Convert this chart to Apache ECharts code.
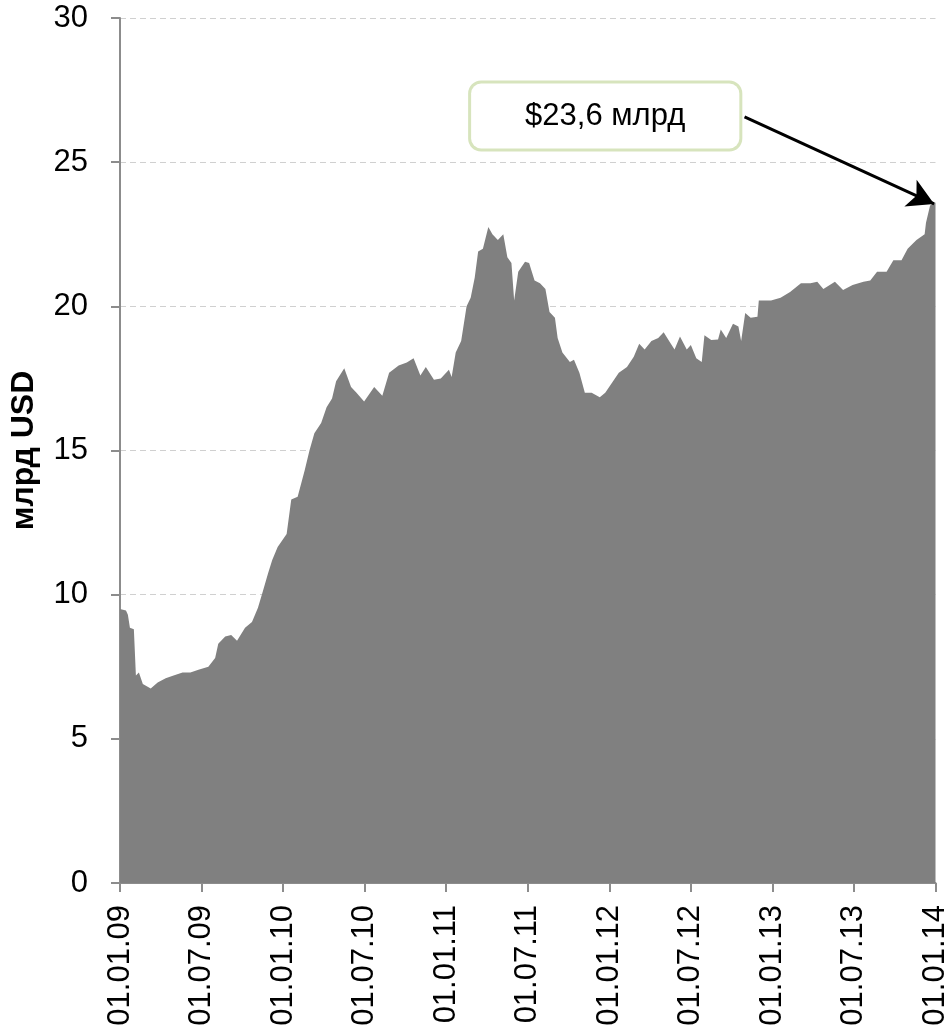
<!DOCTYPE html>
<html>

<head>
    <meta charset="utf-8">
    <title>млрд USD</title>
    <style>
        html, body { margin: 0; padding: 0; background: #fff; }
        #chart-container { width: 951px; height: 1031px; }
    </style>
    <script src="https://cdn.jsdelivr.net/npm/echarts@6/dist/echarts.min.js"></script>
</head>

<body>
    <div id="chart-container"></div>
    <script>
        // x = месяцы от 01.01.09, y = млрд USD
        const months = [
            0, 0.44, 0.58, 0.73, 1.02, 1.17, 1.39, 1.68, 2.26, 2.77, 3.36, 3.94, 4.6, 5.18, 5.77,
            6.5, 7.0, 7.23, 7.74, 8.18, 8.61, 9.2, 9.71, 10.15, 10.5, 10.9, 11.2, 11.6, 12.26, 12.6,
            13.07, 13.58, 13.94, 14.3, 14.8, 15.2, 15.6, 15.9, 16.5, 17.0, 17.4, 17.96, 18.7, 19.3,
            19.8, 20.5, 21.1, 21.6, 22.1, 22.5, 23.1, 23.6, 24.2, 24.4, 24.7, 25.1, 25.5, 25.8, 26.1,
            26.35, 26.7, 27.1, 27.4, 27.8, 28.2, 28.5, 28.8, 29.0, 29.3, 29.8, 30.1, 30.5, 30.9,
            31.3, 31.6, 32.0, 32.2, 32.55, 33.1, 33.4, 33.8, 34.2, 34.7, 35.3, 35.7, 36.2, 36.7,
            37.3, 37.8, 38.2, 38.6, 39.1, 39.6, 40.0, 40.4, 40.8, 41.2, 41.7, 42.0, 42.4, 42.8,
            43.0, 43.5, 44.0, 44.2, 44.6, 45.1, 45.5, 45.7, 46.0, 46.4, 46.9, 47.0, 47.9, 48.6,
            49.3, 50.1, 50.8, 51.3, 51.75, 52.6, 53.2, 53.9, 54.7, 55.2, 55.7, 56.4, 56.9, 57.5,
            57.95, 58.6, 59.2, 59.3, 59.6, 60
        ];
        const values = [
            9.5, 9.45, 9.3, 8.85, 8.8, 7.2, 7.3, 6.9, 6.75, 6.95, 7.1, 7.2, 7.3, 7.3, 7.4,
            7.5, 7.8, 8.3, 8.55, 8.6, 8.4, 8.85, 9.05, 9.55, 10.1, 10.75, 11.2, 11.65, 12.1, 13.3,
            13.4, 14.3, 15.0, 15.6, 15.95, 16.5, 16.8, 17.4, 17.85, 17.2, 17.0, 16.7, 17.2, 16.9,
            17.7, 17.95, 18.05, 18.2, 17.6, 17.9, 17.45, 17.5, 17.8, 17.55, 18.4, 18.8, 20.0, 20.3, 21.0,
            21.9, 22.0, 22.75, 22.5, 22.3, 22.5, 21.7, 21.5, 20.2, 21.2, 21.55, 21.5, 20.9, 20.8,
            20.6, 19.8, 19.6, 18.9, 18.4, 18.07, 18.15, 17.7, 17.0, 17.0, 16.85, 17.0, 17.35, 17.7,
            17.9, 18.25, 18.7, 18.5, 18.8, 18.9, 19.1, 18.8, 18.5, 18.95, 18.5, 18.66, 18.2, 18.07,
            19.0, 18.83, 18.85, 19.2, 18.9, 19.4, 19.3, 18.8, 19.77, 19.6, 19.64, 20.2, 20.2, 20.3,
            20.5, 20.8, 20.8, 20.85, 20.6, 20.85, 20.57, 20.74, 20.85, 20.9, 21.2, 21.2, 21.6, 21.6,
            22.0, 22.3, 22.5, 22.9, 23.5, 23.6
        ];
        const xTickLabels = ['01.01.09', '01.07.09', '01.01.10', '01.07.10', '01.01.11', '01.07.11',
            '01.01.12', '01.07.12', '01.01.13', '01.07.13', '01.01.14'];
        const calloutText = '$23,6 млрд';
        const calloutBox = [35.7, 26.6];
        const arrowFrom = [45.95, 26.57];
        const arrowTo = [59.9, 23.55];

        const FONT = '"Liberation Sans", Arial, sans-serif';

        var dom = document.getElementById('chart-container');
        var myChart = echarts.init(dom, null, { renderer: 'canvas' });

        const seriesData = months.map((m, i) => [m, values[i]]);

        var option = {
            animation: false,
            backgroundColor: '#fff',
            grid: { left: 114, right: 15, top: 18, bottom: 148 },
            xAxis: {
                type: 'value',
                min: 0,
                max: 60,
                interval: 6,
                splitLine: { show: false },
                axisLine: { show: true, lineStyle: { color: '#8c8c8c', width: 2 } },
                axisTick: { show: true, length: 9, lineStyle: { color: '#8c8c8c', width: 2 } },
                axisLabel: {
                    rotate: 90,
                    margin: 22,
                    color: '#000',
                    fontFamily: FONT,
                    fontSize: 31,
                    formatter: v => xTickLabels[Math.round(v / 6)] || ''
                }
            },
            yAxis: {
                type: 'value',
                min: 0,
                max: 30,
                interval: 5,
                name: 'млрд USD',
                nameLocation: 'middle',
                nameGap: 80,
                nameTextStyle: { color: '#000', fontFamily: FONT, fontSize: 32, fontWeight: 'bold' },
                axisLine: { show: true, lineStyle: { color: '#8c8c8c', width: 2 } },
                axisTick: { show: true, length: 9, lineStyle: { color: '#8c8c8c', width: 2 } },
                axisLabel: { margin: 32, color: '#000', fontFamily: FONT, fontSize: 31 },
                splitLine: { show: true, lineStyle: { color: '#d0d0d0', type: [6, 4], width: 1 } }
            },
            series: [
                {
                    type: 'line',
                    data: seriesData,
                    showSymbol: false,
                    lineStyle: { width: 0 },
                    areaStyle: { color: '#808080', opacity: 1 },
                    silent: true,
                    markLine: {
                        silent: true,
                        symbol: ['none', 'arrow'],
                        symbolSize: [22, 26],
                        label: { show: false },
                        lineStyle: { color: '#000', width: 3, type: 'solid' },
                        data: [[{ coord: arrowFrom }, { coord: arrowTo }]]
                    },
                    markPoint: {
                        silent: true,
                        symbol: 'rect',
                        symbolSize: 1,
                        itemStyle: { color: 'rgba(0,0,0,0)' },
                        label: {
                            show: true,
                            position: 'inside',
                            formatter: calloutText,
                            color: '#000',
                            fontFamily: FONT,
                            fontSize: 31,
                            backgroundColor: '#fff',
                            borderColor: '#d7e4bd',
                            borderWidth: 3,
                            borderRadius: 10,
                            padding: [17, 54]
                        },
                        data: [{ coord: calloutBox }]
                    }
                }
            ]
        };

        myChart.setOption(option);
        window.addEventListener('resize', myChart.resize);
    </script>
</body>

</html>
